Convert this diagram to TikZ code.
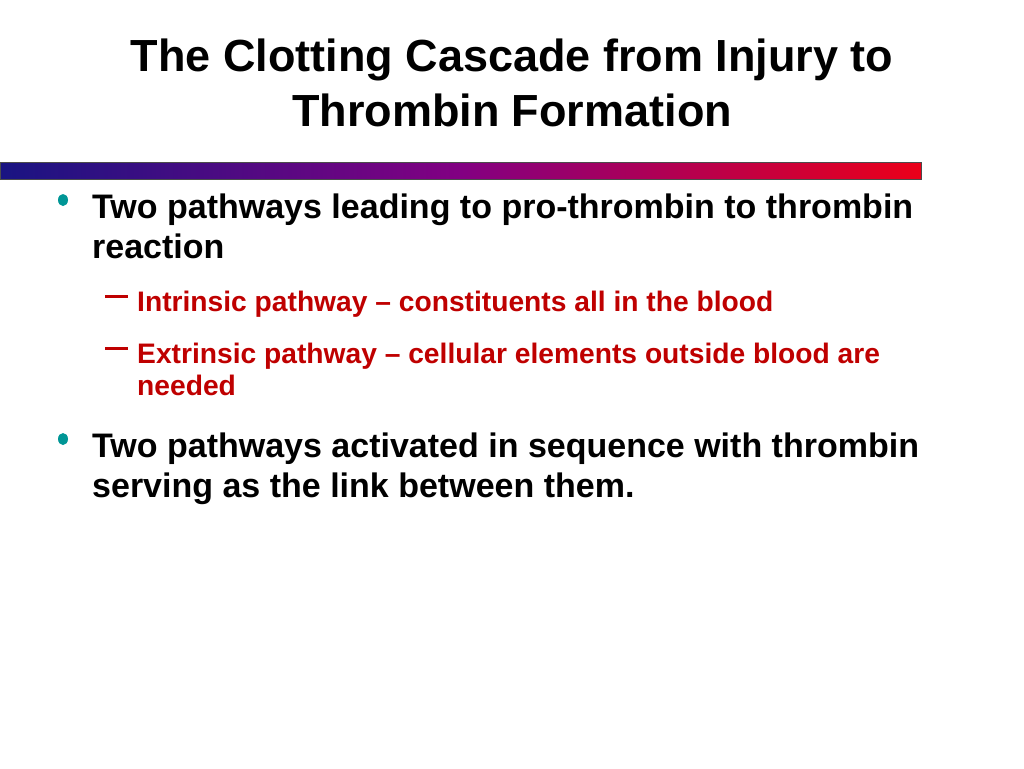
\documentclass[tikz,border=0pt]{standalone}
\usepackage{fontspec}
\setmainfont{Liberation Sans}
\begin{document}
\begin{tikzpicture}[x=1pt,y=-1pt,
  ln/.style={anchor=base west,inner sep=0pt,font=\fontsize{34}{38}\selectfont\bfseries},
  sub/.style={anchor=base west,inner sep=0pt,font=\fontsize{28.2}{31}\selectfont\bfseries,text=red!75!black},
  tt/.style={align=center,inner sep=0pt,font=\fontsize{45}{55}\selectfont\bfseries}]
\useasboundingbox (0,0) rectangle (1024,768);
\definecolor{bl}{RGB}{25,20,130}\definecolor{pu}{RGB}{130,0,130}\definecolor{rd}{RGB}{235,0,25}\definecolor{tl}{RGB}{0,150,150}
\node[tt] (title) at (512,83) {The Clotting Cascade from Injury to\\Thrombin Formation};
\shade[left color=bl,right color=rd,middle color=pu] (0,162) rectangle (921,179);
\draw[black!70,line width=1] (0,162) rectangle (921,179);
\fill[tl] (63,200) ellipse (5 and 6);
\fill[tl] (63,439) ellipse (5 and 6);
\node[ln] (a1) at (92,218) {Two pathways leading to pro-thrombin to thrombin};
\node[ln] (a2) at (92,258) {reaction};
\fill[red!75!black] (105,295) rectangle (128,298);
\fill[red!75!black] (105,347) rectangle (128,350);
\node[sub] (b1) at (137,311) {Intrinsic pathway – constituents all in the blood};
\node[sub] (b2) at (137,363) {Extrinsic pathway – cellular elements outside blood are};
\node[sub] (b3) at (137,395) {needed};
\node[ln] (c1) at (92,457) {Two pathways activated in sequence with thrombin};
\node[ln] (c2) at (92,497) {serving as the link between them.};
\end{tikzpicture}
\end{document}
